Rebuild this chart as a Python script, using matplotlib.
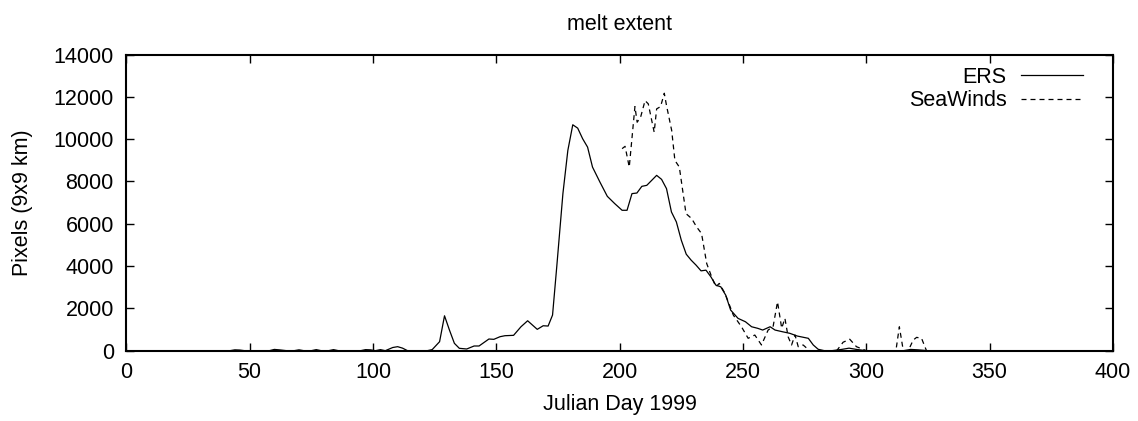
import matplotlib
matplotlib.use("Agg")
import matplotlib.pyplot as plt

plt.rcParams['font.family'] = ['Liberation Sans', 'DejaVu Sans']

ers_day = [42, 44, 46, 48, 50, 55, 58, 60, 62, 65, 68, 70, 72, 75, 77, 79, 82, 84, 86,
           90, 95, 97, 99, 101, 103, 105, 108, 110, 112, 114, 118, 122, 124, 127, 129,
           131, 133, 135, 138, 141, 143, 147, 149, 151.5, 153.5, 157, 160, 162.7, 166.6,
           169, 171, 172.8, 174.5, 177, 179, 181, 183, 185, 187, 189, 192, 195, 198, 201,
           203, 205, 207, 209, 211, 213, 215, 217, 219, 221, 223, 225, 227, 229, 231, 233,
           235, 237, 239, 241, 243, 245, 248, 251, 253.5, 256, 258, 261, 263, 266, 269,
           272, 276.5, 278.5, 280.5, 283, 286, 290, 293, 296, 300, 305, 310, 315, 318,
           321, 325]
ers_val = [0, 40, 30, 0, 0, 0, 0, 60, 40, 0, 0, 40, 0, 0, 50, 0, 0, 50, 0,
           0, 0, 50, 40, 0, 50, 0, 150, 190, 120, 0, 0, 0, 50, 425, 1650,
           976, 349, 113, 80, 222, 222, 552, 537, 661, 708, 726, 1132, 1415, 1009,
           1179, 1165, 1684, 3962, 7425, 9467, 10679, 10519, 10019, 9623, 8679, 7972, 7297, 6953, 6637,
           6637, 7425, 7453, 7769, 7816, 8052, 8288, 8099, 7660, 6557, 6085, 5221, 4561, 4278, 4042, 3774,
           3807, 3491, 3099, 3019, 2627, 1920, 1528, 1368, 1132, 1057, 976, 1132, 976, 896, 821,
           693, 585, 269, 66, 0, 0, 60, 120, 60, 0, 0, 0, 0, 60,
           40, 0]

sw_day = [201, 202.2, 203.9, 206.2, 207.1, 208.5, 210.3, 211.6, 214, 215, 216.6, 218.1, 219,
          221.1, 222.4, 224.2, 226.9, 229.2, 231.2, 233.2, 235.3, 237.3, 239, 240.4, 242.7,
          246.1, 249.4, 252.1, 254.8, 257.5, 260.2, 262.2, 264, 265.7, 267, 268.3, 269.7,
          271.1, 272.4, 274.4, 277, 280, 284, 288, 290.6, 293.3, 296, 300, 305, 310, 312,
          313.4, 315, 317, 319, 320.4, 322.4, 324.4]
sw_val = [9550, 9660, 8680, 11540, 10800, 11040, 11820, 11670, 10330, 11430, 11540, 12170, 11590,
          10410, 8995, 8680, 6480, 6245, 5850, 5540, 4120, 3490, 3020, 3180, 2710,
          1680, 1130, 585, 740, 270, 976, 1130, 2310, 1060, 1530, 660, 270,
          740, 190, 270, 0, 0, 0, 0, 400, 540, 190, 0, 0, 0, 0,
          1130, 0, 0, 500, 630, 585, 0]

fig = plt.figure(figsize=(11.38, 4.21), dpi=100)
ax = fig.add_axes([0.111, 0.167, 0.867, 0.7035])

ax.plot(ers_day, ers_val, color='black', lw=0.9, label='ERS')
l2, = ax.plot(sw_day, sw_val, color='black', lw=0.9, label='SeaWinds')
l2.set_dashes([4, 3.2])

ax.set_xlim(0, 400)
ax.set_ylim(0, 14000)
ax.set_xticks(range(0, 401, 50))
ax.set_yticks(range(0, 14001, 2000))
ax.tick_params(direction='in', length=6, width=1.0, top=True, right=True,
               labelsize=15.5)
ax.tick_params(axis='x', pad=8)
ax.tick_params(axis='y', pad=9)
for s in ax.spines.values():
    s.set_linewidth(1.5)

ax.set_title('melt extent', fontsize=15.5, pad=18)
ax.set_xlabel('Julian Day 1999', fontsize=15.5, labelpad=8)
ax.set_ylabel('Pixels (9x9 km)', fontsize=15.5, labelpad=15)

leg = ax.legend(loc='upper right', frameon=False, fontsize=15.5, markerfirst=False,
                handlelength=2.9, handletextpad=0.65, borderaxespad=0.3,
                labelspacing=0.1, bbox_to_anchor=(0.985, 1.009))
for t in leg.get_texts():
    t.set_ha('right')

fig.savefig('out.png', dpi=100)
